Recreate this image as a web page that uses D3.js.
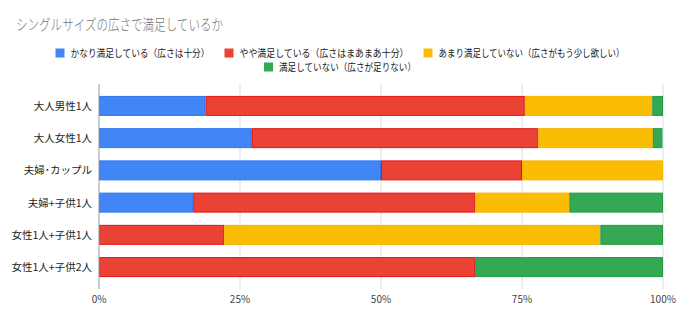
<!DOCTYPE html>
<html>
<head>
<meta charset="utf-8">
<script src="https://cdn.jsdelivr.net/npm/d3@7"></script>
<style>
  body { margin: 0; background: #fff; }
  svg { display: block; font-family: "Noto Sans CJK JP", "Noto Sans", sans-serif; }
</style>
</head>
<body>
<div id="chart"></div>
<script>
const categories = ["大人男性1人", "大人女性1人", "夫婦･カップル", "夫婦+子供1人", "女性1人+子供1人", "女性1人+子供2人"];
const seriesNames = [
  "かなり満足している（広さは十分）",
  "やや満足している（広さはまあまあ十分）",
  "あまり満足していない（広さがもう少し欲しい）",
  "満足していない（広さが足りない）"
];
// percent per category
const veryOk = [18.9, 27.1, 50.0, 16.7, 0, 0];
const fairlyOk = [56.6, 50.8, 25.0, 50.0, 22.2, 66.7];
const notReally = [22.6, 20.3, 25.0, 16.7, 66.7, 0];
const notOk = [1.9, 1.7, 0, 16.6, 11.1, 33.3];
const xTicks = [0, 25, 50, 75, 100];

const colors = ["#4285f4", "#ea4335", "#fbbc04", "#34a853"];
const strokes = ["#2a78f0", "#e21515", "#f7b300", "#1f9b43"];
// legend label widths in the original rendering (narrow font)
const legendTextW = [139, 169, 186, 137];

const W = 680, H = 322;
const margin = { top: 84, right: 17, bottom: 33, left: 99 };
const width = W - margin.left - margin.right;
const height = H - margin.top - margin.bottom;

const svg = d3.select("#chart").append("svg")
  .attr("width", W)
  .attr("height", H);

// title
svg.append("text")
  .attr("x", 16)
  .attr("y", 30)
  .attr("font-size", 15)
  .attr("font-weight", 300)
  .attr("fill", "#757575")
  .attr("textLength", 207)
  .attr("lengthAdjust", "spacingAndGlyphs")
  .text("シングルサイズの広さで満足しているか");

// legend, two rows centered
const legendRows = [[0, 1, 2], [3]];
const legendY = [57, 71];
legendRows.forEach((row, r) => {
  const g = svg.append("g");
  let x = 0;
  row.forEach(si => {
    g.append("rect")
      .attr("x", x)
      .attr("y", legendY[r] - 8.5)
      .attr("width", 9)
      .attr("height", 9)
      .attr("fill", colors[si]);
    g.append("text")
      .attr("x", x + 15)
      .attr("y", legendY[r])
      .attr("font-size", 10)
      .attr("fill", "#222")
      .attr("textLength", legendTextW[si])
      .attr("lengthAdjust", "spacingAndGlyphs")
      .text(seriesNames[si]);
    x += 15 + legendTextW[si] + 15;
  });
  const total = x - 15;
  g.attr("transform", `translate(${340 - total / 2},0)`);
});

const plot = svg.append("g")
  .attr("transform", `translate(${margin.left},${margin.top})`);

const x = d3.scaleLinear().domain([0, 100]).range([0, width]);
const y = d3.scaleBand().domain(categories).range([0, height]).paddingInner(0.38).paddingOuter(0.37);

// gridlines
plot.selectAll(".grid")
  .data(xTicks.slice(1))
  .enter().append("line")
  .attr("x1", d => x(d)).attr("x2", d => x(d))
  .attr("y1", 0).attr("y2", height)
  .attr("stroke", "#dcdcdc")
  .attr("stroke-width", 1);

const rows = categories.map((c, i) => ({
  cat: c, s0: veryOk[i], s1: fairlyOk[i], s2: notReally[i], s3: notOk[i]
}));
const stacked = d3.stack().keys(["s0", "s1", "s2", "s3"])(rows);

stacked.forEach((layer, li) => {
  plot.append("g")
    .selectAll("rect")
    .data(layer.filter(d => d[1] - d[0] > 0))
    .enter().append("rect")
    .attr("x", d => x(d[0]) + 0.5)
    .attr("y", d => y(d.data.cat) + 0.5)
    .attr("width", d => Math.max(0, x(d[1]) - x(d[0]) - 1))
    .attr("height", y.bandwidth() - 1)
    .attr("fill", colors[li])
    .attr("stroke", strokes[li])
    .attr("stroke-width", 1);
});

// zero axis line
plot.append("line")
  .attr("x1", x(0)).attr("x2", x(0))
  .attr("y1", 0).attr("y2", height)
  .attr("stroke", "#999")
  .attr("stroke-width", 1);

// category labels
plot.selectAll(".cat")
  .data(categories)
  .enter().append("text")
  .attr("x", -7)
  .attr("y", d => y(d) + y.bandwidth() / 2 + 4)
  .attr("text-anchor", "end")
  .attr("font-size", 10.5)
  .attr("fill", "#222")
  .text(d => d);

// x tick labels
plot.selectAll(".tick-label")
  .data(xTicks)
  .enter().append("text")
  .attr("x", d => x(d))
  .attr("y", height + 14)
  .attr("text-anchor", "middle")
  .attr("font-size", 10)
  .attr("fill", "#444")
  .text(d => d + "%");
</script>
</body>
</html>
